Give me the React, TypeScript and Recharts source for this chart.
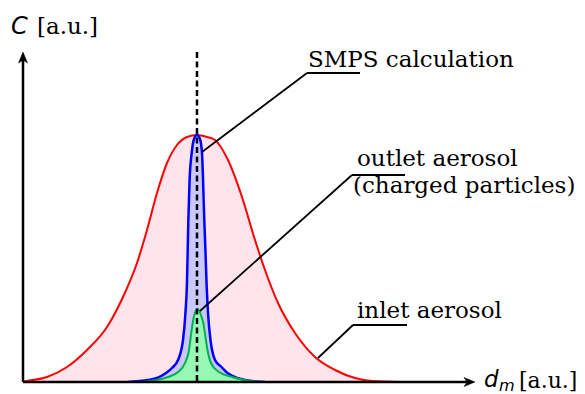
import React from 'react';
import { ComposedChart, Area, XAxis, YAxis, ReferenceLine, Customized } from 'recharts';

// inlet aerosol (red)
const inletX = [0, 4, 24, 44, 64, 84, 100, 114, 124, 134, 144, 154, 164, 174, 184, 192, 205, 219, 232, 242, 255, 272, 292, 312, 332, 349, 377];
const inletC = [0.3, 1, 5, 15, 32, 55, 85, 119, 152, 189, 219, 237, 245, 247, 245, 242, 222, 185, 142, 112, 79, 49, 25, 12, 4, 1, 0];

// SMPS calculation (blue)
const smpsX = [105, 125, 134, 143, 149, 155, 160, 162.5, 164, 165.3, 166.5, 168.7, 171, 174, 177, 179, 181.3, 182.5, 183.7, 185.3, 187.5, 192, 198.5, 204.5, 214, 222, 242];
const smpsC = [0, 2, 4, 9, 14, 22, 42, 70, 100, 160, 200, 229, 243, 247, 243, 229, 162, 130, 95, 65, 42, 22, 15, 9, 4, 2, 0];

// outlet aerosol, charged particles (green)
const outletX = [118, 134, 145, 155, 162, 166, 167.7, 169.7, 171, 174.5, 178.3, 180.3, 182.5, 184.5, 188, 196, 209, 221, 238];
const outletC = [0, 2, 5, 10, 19, 32, 45, 59, 66, 73, 66, 59, 45, 32, 19, 10, 5, 2, 0];

const peakX = 174;
const xMax = 452;
const yMax = 330;

// leader lines (data coordinates)
const smpsLeader = [{ x: 179, y: 230 }, { x: 284, y: 309 }, { x: 337, y: 309 }];
const outletLeader = [{ x: 177, y: 71 }, { x: 329, y: 207 }, { x: 382, y: 207 }];
const inletLeader = [{ x: 295, y: 24 }, { x: 330, y: 57 }, { x: 384, y: 57 }];

const buildTable = () => {
  const xs = Array.from(new Set([...inletX, ...smpsX, ...outletX])).sort((a, b) => a - b);
  return xs.map((x) => {
    const row: any = { x };
    const i = inletX.indexOf(x);
    if (i >= 0) row.inlet = inletC[i];
    const s = smpsX.indexOf(x);
    if (s >= 0) row.smps = smpsC[s];
    const o = outletX.indexOf(x);
    if (o >= 0) row.outlet = outletC[o];
    return row;
  });
};
const data = buildTable();

const ArrowLine = (props: any) => {
  const { x1, y1, x2, y2 } = props;
  const dx = x2 - x1;
  const dy = y2 - y1;
  const len = Math.sqrt(dx * dx + dy * dy) || 1;
  const ux = dx / len;
  const uy = dy / len;
  const L = 11;
  const W = 4.5;
  const bx = x2 - ux * L;
  const by = y2 - uy * L;
  const pts = `${x2},${y2} ${bx - uy * W},${by + ux * W} ${bx + ux * 3},${by + uy * 3} ${bx + uy * W},${by - ux * W}`;
  return (
    <g>
      <line x1={x1} y1={y1} x2={bx + ux * 3} y2={by + uy * 3} stroke="#000" strokeWidth={2.5} />
      <polygon points={pts} fill="#000" stroke="#000" strokeWidth={0.5} strokeLinejoin="miter" />
    </g>
  );
};

const serif = "'DejaVu Serif', serif";
const sansIt = "'DejaVu Sans', sans-serif";

const Labels = () => (
  <g>
    <text x={11} y={34} fontFamily={sansIt} fontStyle="italic" fontSize={24} fill="#000">C</text>
    <text x={37} y={34} fontFamily={serif} fontSize={23} fill="#000">[a.u.]</text>
    <text x={308} y={67} fontFamily={serif} fontSize={23} fill="#000">SMPS calculation</text>
    <text x={357} y={166} fontFamily={serif} fontSize={23} fill="#000">outlet aerosol</text>
    <text x={353} y={193} fontFamily={serif} fontSize={23} fill="#000">(charged particles)</text>
    <text x={357} y={318} fontFamily={serif} fontSize={23} fill="#000">inlet aerosol</text>
    <text x={484} y={387} fontFamily={sansIt} fontStyle="italic" fontSize={23} fill="#000">d</text>
    <text x={499} y={391} fontFamily={sansIt} fontStyle="italic" fontSize={16} fill="#000">m</text>
    <text x={519} y={388} fontFamily={serif} fontSize={22} fill="#000">[a.u.]</text>
  </g>
);

export default function App() {
  return (
    <div style={{ position: 'fixed', left: 0, top: 0, width: 585, height: 394, background: '#fff' }}>
      <ComposedChart width={585} height={394} data={data} margin={{ top: 52, right: 110, bottom: 12, left: 23 }}>
        <XAxis dataKey="x" type="number" domain={[0, xMax]} hide allowDataOverflow />
        <YAxis type="number" domain={[0, yMax]} hide allowDataOverflow />
        <Area dataKey="inlet" type="monotone" stroke="#ff0000" strokeWidth={2} fill="#ffe4ec" fillOpacity={1} connectNulls isAnimationActive={false} dot={false} activeDot={false} />
        <Area dataKey="smps" type="monotone" stroke="#0000ff" strokeWidth={2.5} fill="#c8c8fa" fillOpacity={1} connectNulls isAnimationActive={false} dot={false} activeDot={false} />
        <Area dataKey="outlet" type="monotone" stroke="#00b04f" strokeWidth={2} fill="#96f9b4" fillOpacity={1} connectNulls isAnimationActive={false} dot={false} activeDot={false} />
        <ReferenceLine segment={[{ x: peakX, y: yMax }, { x: peakX, y: 0 }]} stroke="#000" strokeWidth={2.5} strokeDasharray="6 3.5" ifOverflow="visible" />
        <ReferenceLine segment={[smpsLeader[0], smpsLeader[1]]} stroke="#000" strokeWidth={1.8} ifOverflow="visible" />
        <ReferenceLine segment={[smpsLeader[1], smpsLeader[2]]} stroke="#000" strokeWidth={1.8} ifOverflow="visible" />
        <ReferenceLine segment={[outletLeader[0], outletLeader[1]]} stroke="#000" strokeWidth={1.8} ifOverflow="visible" />
        <ReferenceLine segment={[outletLeader[1], outletLeader[2]]} stroke="#000" strokeWidth={1.8} ifOverflow="visible" />
        <ReferenceLine segment={[inletLeader[0], inletLeader[1]]} stroke="#000" strokeWidth={1.8} ifOverflow="visible" />
        <ReferenceLine segment={[inletLeader[1], inletLeader[2]]} stroke="#000" strokeWidth={1.8} ifOverflow="visible" />
        <ReferenceLine segment={[{ x: 0, y: 0 }, { x: xMax, y: 0 }]} shape={ArrowLine} ifOverflow="visible" />
        <ReferenceLine segment={[{ x: 0, y: 0 }, { x: 0, y: yMax }]} shape={ArrowLine} ifOverflow="visible" />
        <Customized component={Labels} />
      </ComposedChart>
    </div>
  );
}
